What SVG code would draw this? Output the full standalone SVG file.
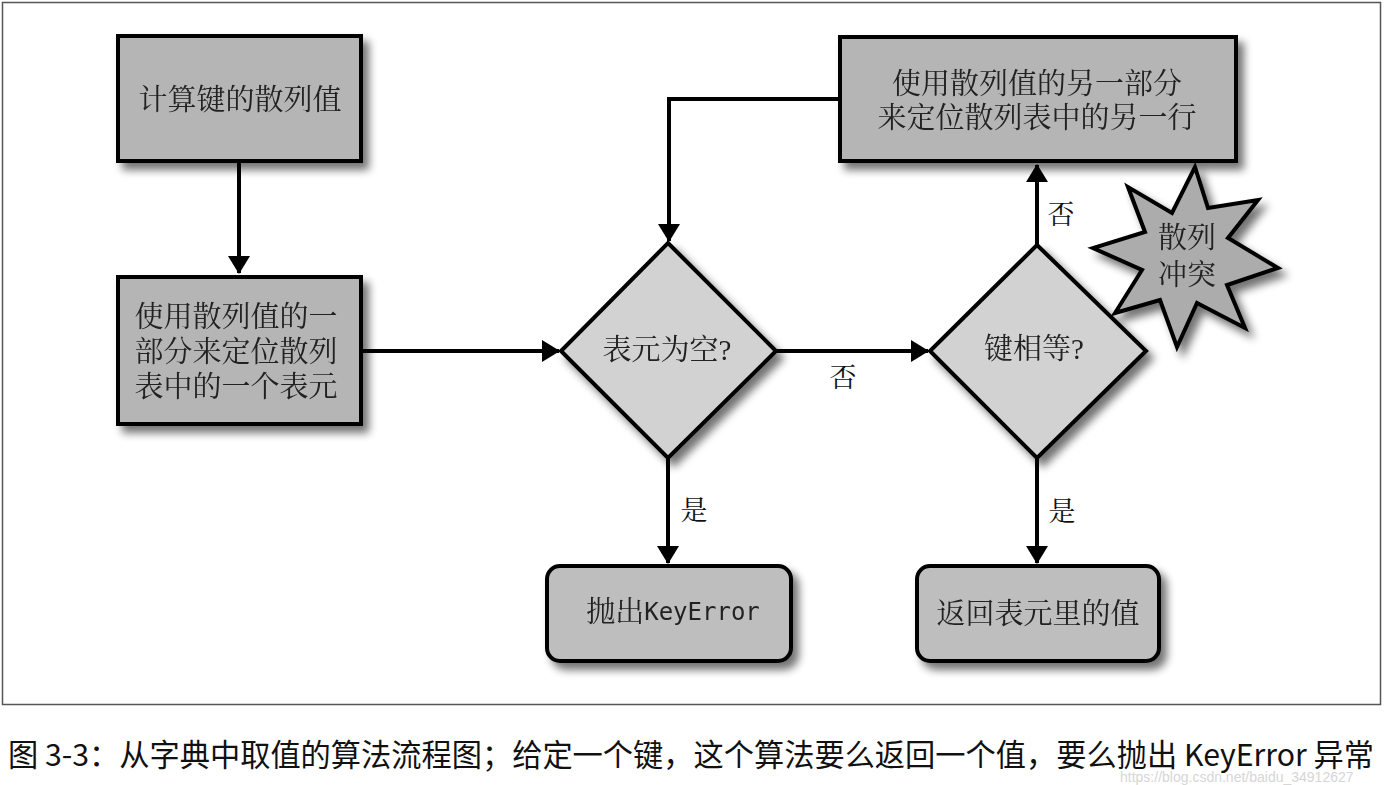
<svg xmlns="http://www.w3.org/2000/svg" width="1387" height="785" viewBox="0 0 1387 785">
<style>
.box{fill:#b5b5b5;stroke:#000;stroke-width:4}
.rbox{fill:#bebebe;stroke:#000;stroke-width:4}
.dia{fill:#d2d2d2;stroke:#000;stroke-width:4}
.star{fill:#acacac;stroke:#000;stroke-width:4;stroke-linejoin:miter}
.t{font-family:"Liberation Serif","Noto Serif CJK SC","Noto Sans CJK SC",serif;font-size:29px;fill:#222;text-anchor:middle;dominant-baseline:central}
.mono{font-family:"DejaVu Sans Mono","Liberation Mono",monospace;font-size:24px}
.lbl{font-family:"Liberation Serif","Noto Serif CJK SC","Noto Sans CJK SC",serif;font-size:27px;fill:#111;text-anchor:middle;dominant-baseline:central}
.ln{fill:none;stroke:#000;stroke-width:4}
.cap{font-family:"Noto Sans CJK SC","Noto Sans",sans-serif;font-size:30.5px;fill:#111}
</style>
<defs>
<filter id="sh" x="-20%" y="-20%" width="150%" height="150%">
<feGaussianBlur in="SourceAlpha" stdDeviation="4"/>
<feOffset dx="6" dy="7" result="b"/>
<feComponentTransfer><feFuncA type="linear" slope="0.55"/></feComponentTransfer>
<feMerge><feMergeNode/><feMergeNode in="SourceGraphic"/></feMerge>
</filter>
<marker id="ah" markerWidth="22" markerHeight="22" viewBox="0 0 18 22" refX="17" refY="11" orient="auto" markerUnits="userSpaceOnUse">
<path d="M0,0 L18,11 L0,22 Z" fill="#000"/>
</marker>
</defs>
<rect x="2.5" y="2.5" width="1378" height="702" fill="#fff" stroke="#555" stroke-width="1.5"/>

<g id="connectors">
<line class="ln" x1="239" y1="162" x2="239" y2="273" marker-end="url(#ah)"/>
<line class="ln" x1="362" y1="351" x2="559" y2="351" marker-end="url(#ah)"/>
<line class="ln" x1="776" y1="351" x2="928" y2="351" marker-end="url(#ah)"/>
<line class="ln" x1="1037" y1="245" x2="1037" y2="165" marker-end="url(#ah)"/>
<polyline class="ln" points="840,99 669,99 669,241" marker-end="url(#ah)"/>
<line class="ln" x1="668" y1="458" x2="668" y2="563" marker-end="url(#ah)"/>
<line class="ln" x1="1037" y1="458" x2="1037" y2="563" marker-end="url(#ah)"/>
<text class="lbl" x="843" y="378">否</text>
<text class="lbl" x="1061" y="215">否</text>
<text class="lbl" x="694" y="511">是</text>
<text class="lbl" x="1062" y="512">是</text>
</g>

<g id="n1" filter="url(#sh)">
<rect class="box" x="118" y="36" width="243" height="125"/>
<text class="t" x="240" y="100">计算键的散列值</text>
</g>
<g id="n2" filter="url(#sh)">
<rect class="box" x="118" y="277" width="243" height="147"/>
<text class="t" x="236" y="317">使用散列值的一</text>
<text class="t" x="236" y="352">部分来定位散列</text>
<text class="t" x="236" y="387">表中的一个表元</text>
</g>
<g id="n3" filter="url(#sh)">
<polygon class="dia" points="668,243 776,351 668,458 561,351"/>
<text class="t" x="667" y="350">表元为空?</text>
</g>
<g id="n4" filter="url(#sh)">
<polygon class="dia" points="1037,245 1146,351 1037,458 930,351"/>
<text class="t" x="1034" y="349">键相等?</text>
</g>
<g id="n5" filter="url(#sh)">
<rect class="box" x="840" y="37" width="396" height="124"/>
<text class="t" x="1037" y="84">使用散列值的另一部分</text>
<text class="t" x="1037" y="118">来定位散列表中的另一行</text>
</g>
<g id="n6" filter="url(#sh)">
<polygon class="star" points="1195,167 1208,208 1258,200 1228,238 1278,268 1227,285 1245,328 1197,303 1177,347 1160,300 1115,313 1142,270 1093,248 1145,232 1128,187 1172,213"/>
<text class="t" x="1187" y="238">散列</text>
<text class="t" x="1187" y="275">冲突</text>
</g>
<g id="n7" filter="url(#sh)">
<rect class="rbox" x="547" y="566" width="244" height="95" rx="13"/>
<text class="t" x="673" y="612">抛出<tspan class="mono">KeyError</tspan></text>
</g>
<g id="n8" filter="url(#sh)">
<rect class="rbox" x="917" y="566" width="242" height="95" rx="13"/>
<text class="t" x="1038" y="614">返回表元里的值</text>
</g>

<text class="cap" x="8" y="766" textLength="1366" lengthAdjust="spacingAndGlyphs">图 3-3：从字典中取值的算法流程图；给定一个键，这个算法要么返回一个值，要么抛出 KeyError 异常</text>
<text x="1120" y="782" font-family="Liberation Sans,Arial,sans-serif" font-size="14" fill="#d6d6d6">https://blog.csdn.net/baidu_34912627</text>
</svg>
